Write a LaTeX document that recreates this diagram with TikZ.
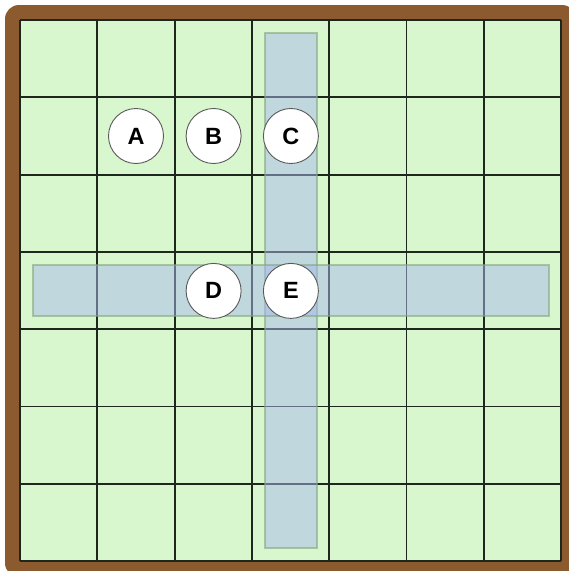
\documentclass[tikz,border=0pt]{standalone}
\usepackage{fontspec}
\setmainfont{Liberation Sans}
\usetikzlibrary{positioning}
\definecolor{frame}{HTML}{8B5A2F}
\definecolor{grass}{HTML}{D9F7CE}
\definecolor{gridline}{HTML}{1E261E}
\definecolor{lane}{RGB}{167,185,236}
\definecolor{laneedge}{RGB}{130,165,130}
\tikzset{
  token/.style={
    circle,
    draw=black!65,
    line width=0.9pt,
    fill=white,
    minimum size=55pt,
    inner sep=0pt,
    font=\fontsize{23.5}{25}\selectfont\bfseries,
    text=black
  },
  lanebar/.style={fill=lane, fill opacity=0.5, draw=laneedge, draw opacity=0.6, line width=1.2pt},
  cellgrid/.style={draw=gridline, line width=1.9pt}
}
\begin{document}
\begin{tikzpicture}[x=1pt,y=-1pt]
      \useasboundingbox (0,0) rectangle (569,571);
      \clip (0,0) rectangle (569,571);
      % board
      \fill[frame, rounded corners=14pt] (5,5) rectangle (576,577);
      \fill[grass] (20,20) rectangle (561,561);
      \foreach \i in {0,...,7} {
        \draw[cellgrid] ({20+\i*77.3},20) -- ({20+\i*77.3},561);
        \draw[cellgrid] (20,{20+\i*77.3}) -- (561,{20+\i*77.3});
      }
      % lanes
      \draw[lanebar] (265,33) rectangle (317,548);
      \draw[lanebar] (33,265) rectangle (549,316);
      % tokens
      \node[token] (A) at (136,136) {A};
      \node[token] (B) at (213.6,136) {B};
      \node[token] (C) at (290.9,136) {C};
      \node[token] (D) at (213.6,290.9) {D};
      \node[token] (E) at (290.9,290.9) {E};
    \end{tikzpicture}
\end{document}
